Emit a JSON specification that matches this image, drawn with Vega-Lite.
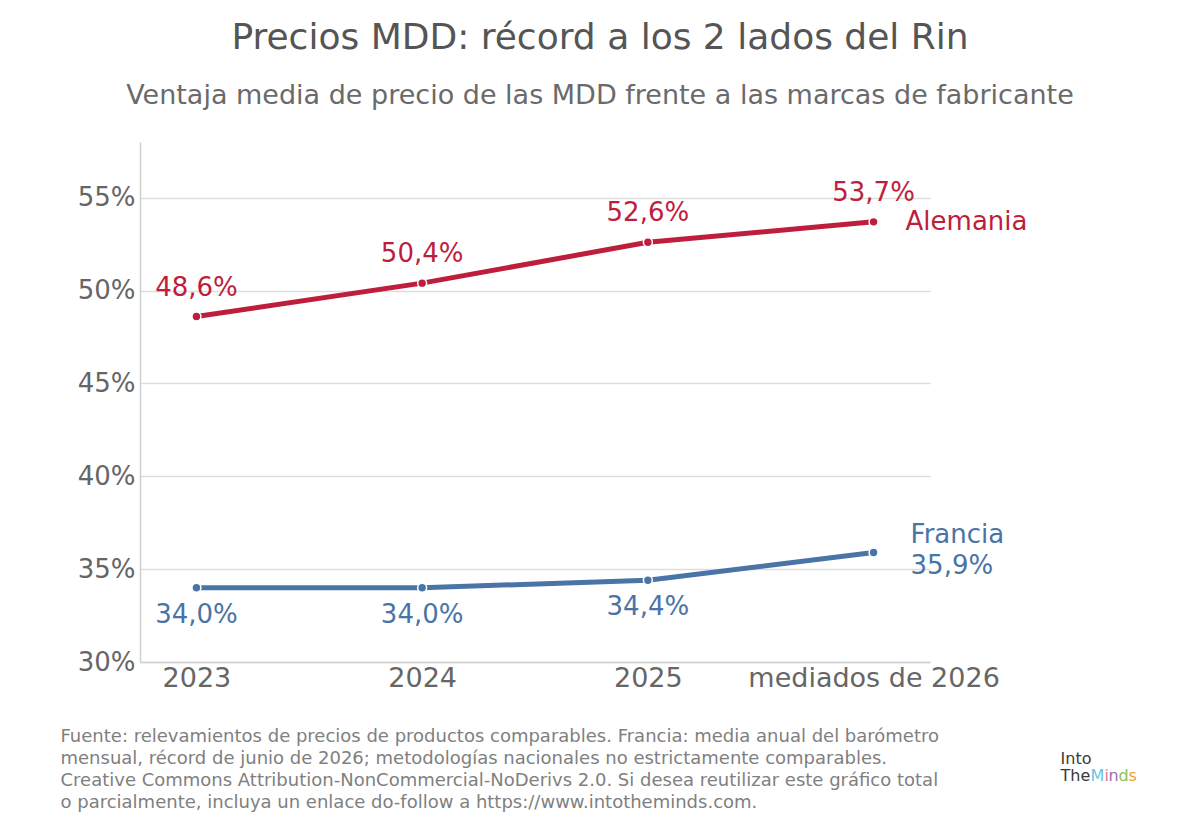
{
  "$schema": "https://vega.github.io/schema/vega-lite/v6.json",
  "width": 790,
  "height": 520,
  "padding": {"left": 60, "top": 20, "right": 5, "bottom": 5},
  "background": "white",
  "title": {
    "text": "Precios MDD: récord a los 2 lados del Rin",
    "subtitle": "Ventaja media de precio de las MDD frente a las marcas de fabricante",
    "fontSize": 36,
    "fontWeight": "normal",
    "color": "#555555",
    "subtitleFontSize": 27,
    "subtitleColor": "#6a6a6a",
    "subtitlePadding": 26,
    "anchor": "middle",
    "dx": 65,
    "offset": 32
  },
  "data": {
    "values": [
      {"periodo": "2023", "serie": "Alemania", "valor": 0.486},
      {"periodo": "2024", "serie": "Alemania", "valor": 0.504},
      {"periodo": "2025", "serie": "Alemania", "valor": 0.526},
      {"periodo": "mediados de 2026", "serie": "Alemania", "valor": 0.537},
      {"periodo": "2023", "serie": "Francia", "valor": 0.340},
      {"periodo": "2024", "serie": "Francia", "valor": 0.340},
      {"periodo": "2025", "serie": "Francia", "valor": 0.344},
      {"periodo": "mediados de 2026", "serie": "Francia", "valor": 0.359}
    ]
  },
  "encoding": {
    "x": {
      "field": "periodo",
      "type": "ordinal",
      "sort": ["2023", "2024", "2025", "mediados de 2026"],
      "scale": {"type": "point", "padding": 0.25},
      "axis": {
        "labelAngle": 0,
        "labelFontSize": 27,
        "labelColor": "#666666",
        "labelPadding": 3,
        "labelLimit": 0,
        "ticks": false,
        "domainColor": "#d0d0d0",
        "domainWidth": 1.5,
        "title": [
          "Fuente: relevamientos de precios de productos comparables. Francia: media anual del barómetro",
          "mensual, récord de junio de 2026; metodologías nacionales no estrictamente comparables.",
          "Creative Commons Attribution-NonCommercial-NoDerivs 2.0. Si desea reutilizar este gráfico total",
          "o parcialmente, incluya un enlace do-follow a https://www.intotheminds.com."
        ],
        "titleFontSize": 18,
        "titleFontWeight": "normal",
        "titleColor": "#808080",
        "titleAlign": "left",
        "titleAnchor": "start",
        "titleBaseline": "top",
        "titleLineHeight": 22,
        "titleX": -80,
        "titleY": 65
      }
    },
    "y": {
      "field": "valor",
      "type": "quantitative",
      "scale": {"domain": [0.30, 0.58], "nice": false, "zero": false},
      "axis": {
        "values": [0.30, 0.35, 0.40, 0.45, 0.50, 0.55],
        "format": ".0%",
        "labelFontSize": 26,
        "labelColor": "#666666",
        "labelPadding": 5,
        "ticks": false,
        "gridColor": "#dddddd",
        "gridWidth": 1.5,
        "domainColor": "#d0d0d0",
        "domainWidth": 1.5,
        "title": null
      }
    },
    "color": {
      "field": "serie",
      "type": "nominal",
      "scale": {"domain": ["Alemania", "Francia"], "range": ["#be1e3c", "#4a74a6"]},
      "legend": null
    }
  },
  "layer": [
    {"mark": {"type": "line", "strokeWidth": 5}},
    {"mark": {"type": "point", "filled": true, "size": 80, "opacity": 1, "stroke": "white", "strokeWidth": 1.5}},
    {
      "transform": [{"filter": "datum.serie == 'Alemania'"}],
      "mark": {"type": "text", "fontSize": 26, "dy": -29},
      "encoding": {"text": {"field": "valor", "type": "quantitative", "format": ".1%"}}
    },
    {
      "transform": [{"filter": "datum.serie == 'Francia' && datum.periodo != 'mediados de 2026'"}],
      "mark": {"type": "text", "fontSize": 26, "dy": 27},
      "encoding": {"text": {"field": "valor", "type": "quantitative", "format": ".1%"}}
    },
    {
      "transform": [{"filter": "datum.serie == 'Alemania' && datum.periodo == 'mediados de 2026'"}],
      "mark": {"type": "text", "fontSize": 26, "align": "left", "dx": 32, "dy": 0},
      "encoding": {"text": {"field": "serie"}}
    },
    {
      "transform": [{"filter": "datum.serie == 'Francia' && datum.periodo == 'mediados de 2026'"}],
      "mark": {"type": "text", "fontSize": 26, "align": "left", "dx": 37, "dy": -17},
      "encoding": {"text": {"field": "serie"}}
    },
    {
      "transform": [{"filter": "datum.serie == 'Francia' && datum.periodo == 'mediados de 2026'"}],
      "mark": {"type": "text", "fontSize": 26, "align": "left", "dx": 37, "dy": 14},
      "encoding": {"text": {"field": "valor", "type": "quantitative", "format": ".1%"}}
    },
    {
      "transform": [{"filter": "datum.serie == 'Francia' && datum.periodo == 'mediados de 2026'"}],
      "mark": {"type": "text", "text": ["Into", "The"], "fontSize": 16, "lineHeight": 17, "align": "left", "baseline": "top", "dx": 187},
      "encoding": {"y": {"datum": 0.2521}, "color": {"value": "#3a3a3a"}}
    },
    {
      "transform": [{"filter": "datum.serie == 'Francia' && datum.periodo == 'mediados de 2026'"}],
      "mark": {"type": "text", "text": "M", "fontSize": 16, "align": "left", "baseline": "top", "dx": 217},
      "encoding": {"y": {"datum": 0.2429}, "color": {"value": "#6cc3e6"}}
    },
    {
      "transform": [{"filter": "datum.serie == 'Francia' && datum.periodo == 'mediados de 2026'"}],
      "mark": {"type": "text", "text": "i", "fontSize": 16, "align": "left", "baseline": "top", "dx": 231},
      "encoding": {"y": {"datum": 0.2429}, "color": {"value": "#e67aa6"}}
    },
    {
      "transform": [{"filter": "datum.serie == 'Francia' && datum.periodo == 'mediados de 2026'"}],
      "mark": {"type": "text", "text": "n", "fontSize": 16, "align": "left", "baseline": "top", "dx": 235},
      "encoding": {"y": {"datum": 0.2429}, "color": {"value": "#9b6bb8"}}
    },
    {
      "transform": [{"filter": "datum.serie == 'Francia' && datum.periodo == 'mediados de 2026'"}],
      "mark": {"type": "text", "text": "d", "fontSize": 16, "align": "left", "baseline": "top", "dx": 245},
      "encoding": {"y": {"datum": 0.2429}, "color": {"value": "#8cc04b"}}
    },
    {
      "transform": [{"filter": "datum.serie == 'Francia' && datum.periodo == 'mediados de 2026'"}],
      "mark": {"type": "text", "text": "s", "fontSize": 16, "align": "left", "baseline": "top", "dx": 255},
      "encoding": {"y": {"datum": 0.2429}, "color": {"value": "#f0a030"}}
    }
  ],
  "config": {
    "font": "DejaVu Sans",
    "view": {"stroke": null},
    "locale": {
      "number": {"decimal": ",", "thousands": ".", "grouping": [3], "currency": ["", " €"]}
    }
  }
}
